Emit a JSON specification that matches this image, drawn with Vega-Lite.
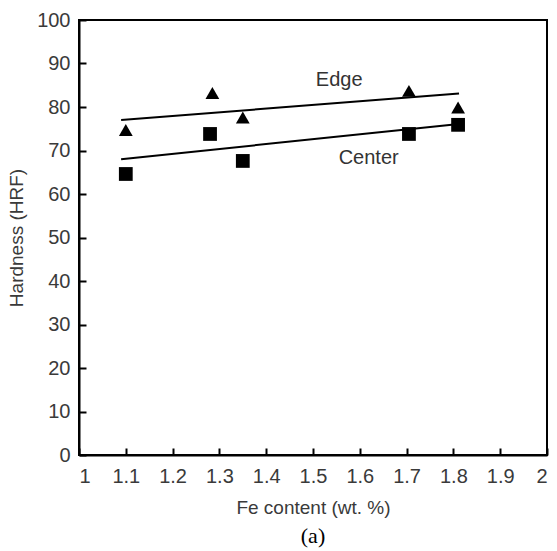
{
  "$schema": "https://vega.github.io/schema/vega-lite/v6.json",
  "width": 468,
  "height": 435,
  "autosize": {"type": "none"},
  "padding": {"left": 79, "top": 20, "right": 10, "bottom": 96},
  "background": "white",
  "config": {
    "view": {"stroke": "black", "strokeWidth": 2},
    "axis": {
      "grid": false,
      "zindex": 1,
      "ticks": true,
      "domainColor": "black",
      "domainWidth": 2,
      "tickColor": "black",
      "tickWidth": 2,
      "tickSize": -7,
      "labelFont": "Liberation Sans",
      "labelFontSize": 20,
      "labelColor": "#3a3a3a",
      "titleFont": "Liberation Sans",
      "titleFontSize": 19,
      "titleFontWeight": "normal",
      "titleColor": "#3a3a3a"
    }
  },
  "title": {
    "text": "(a)",
    "orient": "bottom",
    "font": "Liberation Serif",
    "fontSize": 22,
    "fontWeight": "normal",
    "color": "black",
    "offset": 9
  },
  "datasets": {
    "points": [
      {"fe": 1.1, "hrf": 74.7, "series": "Edge"},
      {"fe": 1.285, "hrf": 83.2, "series": "Edge"},
      {"fe": 1.35, "hrf": 77.6, "series": "Edge"},
      {"fe": 1.705, "hrf": 83.7, "series": "Edge"},
      {"fe": 1.81, "hrf": 79.9, "series": "Edge"},
      {"fe": 1.1, "hrf": 64.6, "series": "Center"},
      {"fe": 1.28, "hrf": 73.8, "series": "Center"},
      {"fe": 1.35, "hrf": 67.6, "series": "Center"},
      {"fe": 1.705, "hrf": 73.8, "series": "Center"},
      {"fe": 1.81, "hrf": 75.9, "series": "Center"}
    ],
    "fits": [
      {"fe": 1.09, "hrf": 77.0, "series": "Edge"},
      {"fe": 1.812, "hrf": 83.1, "series": "Edge"},
      {"fe": 1.09, "hrf": 68.0, "series": "Center"},
      {"fe": 1.812, "hrf": 76.1, "series": "Center"}
    ],
    "labels": [
      {"fe": 1.556, "hrf": 86.2, "label": "Edge"},
      {"fe": 1.619, "hrf": 68.3, "label": "Center"}
    ]
  },
  "encoding": {
    "x": {
      "field": "fe",
      "type": "quantitative",
      "title": "Fe content (wt. %)",
      "scale": {"domain": [1, 2], "nice": false, "zero": false},
      "axis": {"values": [1, 1.1, 1.2, 1.3, 1.4, 1.5, 1.6, 1.7, 1.8, 1.9, 2], "format": "~g", "labelPadding": 18, "titlePadding": 12}
    },
    "y": {
      "field": "hrf",
      "type": "quantitative",
      "title": "Hardness (HRF)",
      "scale": {"domain": [0, 100], "nice": false},
      "axis": {"values": [0, 10, 20, 30, 40, 50, 60, 70, 80, 90, 100], "labelPadding": 16, "titlePadding": 10}
    }
  },
  "layer": [
    {
      "data": {"name": "fits"},
      "mark": {"type": "line", "color": "black", "strokeWidth": 2},
      "encoding": {"detail": {"field": "series"}}
    },
    {
      "data": {"name": "points"},
      "mark": {"type": "point", "filled": true, "color": "black", "opacity": 1, "size": 190},
      "encoding": {
        "shape": {
          "field": "series",
          "type": "nominal",
          "scale": {"domain": ["Edge", "Center"], "range": ["triangle-up", "square"]},
          "legend": null
        }
      }
    },
    {
      "data": {"name": "labels"},
      "mark": {"type": "text", "font": "Liberation Sans", "fontSize": 20, "color": "#333333", "align": "center", "baseline": "middle"},
      "encoding": {"text": {"field": "label"}}
    }
  ]
}
